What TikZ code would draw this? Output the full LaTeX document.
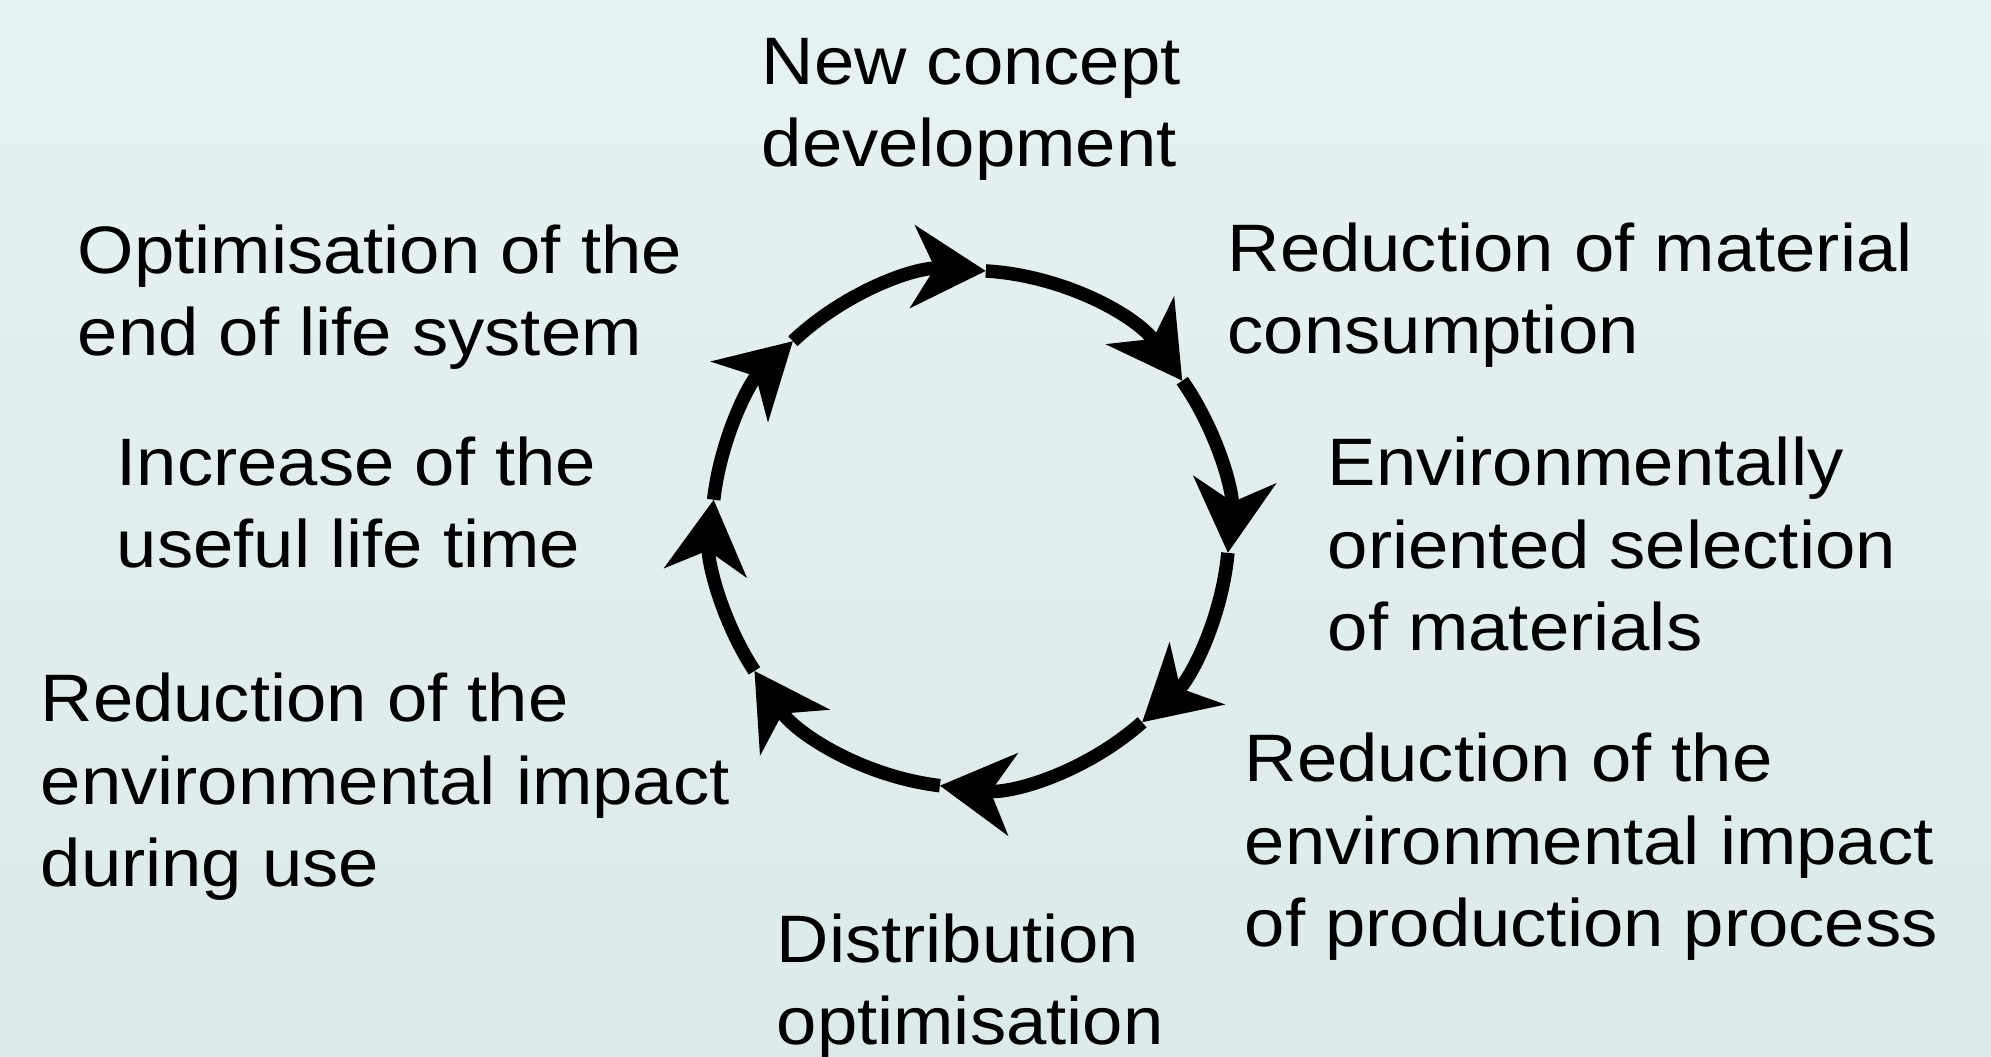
\documentclass[tikz,border=0pt]{standalone}
\usepackage{fontspec}
\setmainfont{Liberation Sans}[FakeStretch=1.08]
\usetikzlibrary{arrows.meta}

\definecolor{bgtop}{HTML}{E7F2F2}
\definecolor{bgbot}{HTML}{DCEAE9}

\begin{document}
\begin{tikzpicture}[
  lbl/.style={anchor=base west, align=left, inner sep=0pt,
              font=\fontsize{19.1pt}{23.6pt}\selectfont},
  arr/.style={-{Stealth[length=7.3mm, width=8.2mm, inset=2.2mm]}, line width=1.35mm}]
  % background
  \shade[top color=bgtop, bottom color=bgbot] (0,0) rectangle (19.91,10.57);
  \useasboundingbox (0,0) rectangle (19.91,10.57);
  % cycle
  \coordinate (c) at (9.705,5.28);
  \def\r{2.585}
  \foreach \a/\b [count=\i] in {133.4/86.6, 86.6/35, 35/-5.3, -5.3/-48.4,
                     -48.4/-96.8, -96.8/-146.7, -146.7/-186.5, -186.5/-226.6} {
    \path (c) ++(\a:\r) coordinate (t\i);
    \draw[arr] (t\i) arc[start angle=\a, end angle=\b, radius=\r];
  }
  % labels (placed at the baseline of the last line)
  \node[lbl] (new) at (7.61,8.90) {New concept\\development};
  \node[lbl] (mat) at (12.27,7.03) {Reduction of material\\consumption};
  \node[lbl] (sel) at (13.27,4.06) {Environmentally\\oriented selection\\of materials};
  \node[lbl] (prod) at (12.44,1.10) {Reduction of the\\environmental impact\\of production process};
  \node[lbl] (dist) at (7.76,0.12) {Distribution\\optimisation};
  \node[lbl] (use) at (0.40,1.70) {Reduction of the\\environmental impact\\during use};
  \node[lbl] (life) at (1.16,4.89) {Increase of the\\useful life time};
  \node[lbl] (eol) at (0.77,7.01) {Optimisation of the\\end of life system};
\end{tikzpicture}
\end{document}
